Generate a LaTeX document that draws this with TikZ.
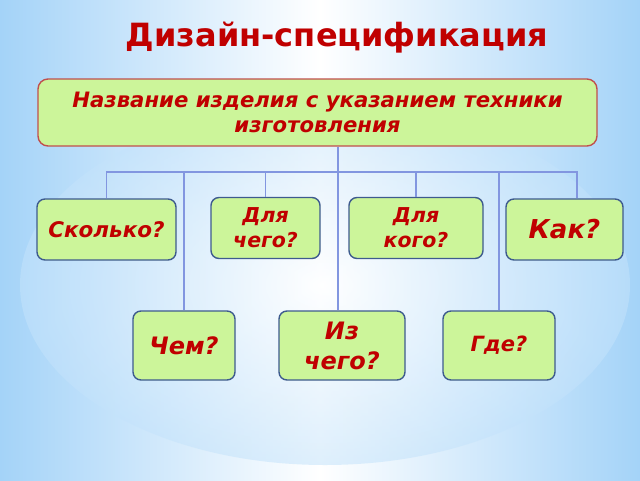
\documentclass[tikz,border=0pt]{standalone}
\usepackage{fontspec}
\setmainfont{DejaVu Sans}
\usetikzlibrary{positioning}
\definecolor{bgblue}{HTML}{A4D3F8}
\definecolor{bgpale}{HTML}{C4E3FB}
\definecolor{boxfill}{HTML}{CCF59A}
\definecolor{boxline}{HTML}{3E5B8E}
\definecolor{topline}{HTML}{C0504D}
\definecolor{txtred}{HTML}{C00000}
\definecolor{wireblue}{HTML}{8296E0}
\newcommand{\qfont}[2]{\fontsize{#1}{#2}\selectfont\bfseries\itshape}

\tikzset{
	question/.style={draw=boxline, line width=1.4pt, fill=boxfill, rounded corners=8pt, align=center, text=txtred, inner sep=0pt},
	wire/.style={draw=wireblue, line width=1.2pt}
}

\begin{document}
\begin{tikzpicture}[x=1pt,y=-1pt]
	\useasboundingbox (0,0) rectangle (640,480);
	
	\fill[bgblue] (0,0) rectangle (640,480);
	\shade[left color=bgblue, right color=bgblue, middle color=white] (0,0) rectangle (640,480);
	\shade[inner color=white, outer color=bgpale, opacity=0.55] (325,285) ellipse [x radius=305, y radius=180];
	
	\node[font=\fontsize{32}{36}\selectfont\bfseries, text=txtred, anchor=base](TITLE) at (337,46){Дизайн-спецификация};
	
	\node[question, draw=topline, rounded corners=10pt, minimum width=559pt, minimum height=67pt, font=\qfont{21.2}{25}](NAME) at (317.5,112.5){Название изделия с указанием техники\\изготовления};
	
	\node[question, minimum width=139pt, minimum height=61pt, font=\qfont{21.5}{25}](HOWMANY) at (106.5,229.5){Сколько?};
	\node[question, minimum width=109pt, minimum height=61pt, font=\qfont{20.5}{25}](WHATFOR) at (265.5,228){Для\\чего?};
	\node[question, minimum width=134pt, minimum height=61pt, font=\qfont{20.5}{25}](WHOFOR) at (416,228){Для\\кого?};
	\node[question, minimum width=117pt, minimum height=61pt, font=\qfont{26}{30}](HOW) at (564.5,229.5){Как?};
	
	\node[question, minimum width=102pt, minimum height=69pt, font=\qfont{24}{30}](WITH) at (184,345.5){Чем?};
	\node[question, minimum width=126pt, minimum height=69pt, font=\qfont{24}{30}](FROM) at (342,345.5){Из\\чего?};
	\node[question, minimum width=112pt, minimum height=69pt, font=\qfont{21}{25}](WHERE) at (499,345.5){Где?};
	
	\coordinate (J) at (338,172);
	
	\draw[wire] (NAME.south -| J) -- (J |- FROM.north);
	\draw[wire] (J) -| (HOWMANY.north);
	\draw[wire] (J) -| (WHATFOR.north);
	\draw[wire] (J) -| (WHOFOR.north);
	\draw[wire] (J) -| ([xshift=12.5pt]HOW.north);
	\draw[wire] (J) -| (WITH.north);
	\draw[wire] (J) -| (WHERE.north);
\end{tikzpicture}
\end{document}
